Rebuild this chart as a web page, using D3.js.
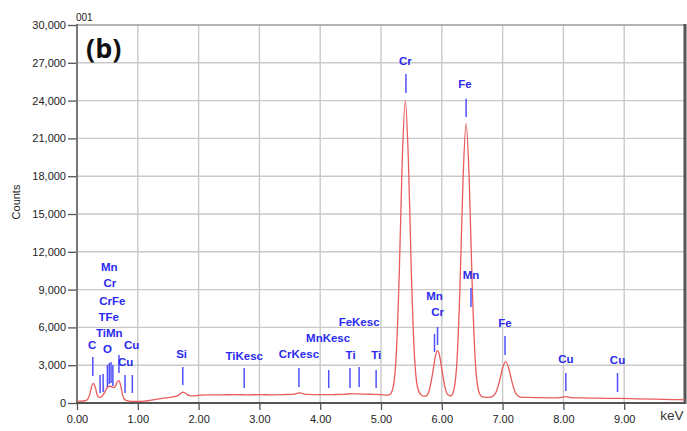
<!DOCTYPE html>
<html><head><meta charset="utf-8">
<script src="https://cdn.jsdelivr.net/npm/d3@7"></script>
<style>
html,body{margin:0;padding:0;background:#fff;}
svg{display:block;font-family:"Liberation Sans",Arial,Helvetica,sans-serif;}
</style></head>
<body><svg id="chart" width="687" height="431"></svg>
<script>
// ---- data ----
const specKeV = [0.00,0.05,0.10,0.15,0.18,0.21,0.24,0.27,0.30,0.33,0.36,0.40,0.44,0.48,0.52,0.56,0.60,0.63,0.66,0.69,0.72,0.75,0.78,0.82,0.90,1.00,1.10,1.20,1.30,1.40,1.50,1.60,1.66,1.70,1.74,1.78,1.82,1.88,1.95,2.05,2.20,2.40,2.60,2.80,3.00,3.20,3.40,3.55,3.62,3.66,3.72,3.80,4.00,4.20,4.40,4.52,4.62,4.75,4.90,5.00,5.10,5.15,5.20,5.25,5.30,5.35,5.40,5.45,5.50,5.55,5.60,5.65,5.70,5.75,5.80,5.85,5.90,5.93,5.96,6.00,6.05,6.10,6.15,6.20,6.25,6.30,6.35,6.40,6.45,6.50,6.55,6.60,6.65,6.70,6.75,6.80,6.85,6.90,6.95,7.00,7.05,7.10,7.15,7.20,7.25,7.30,7.40,7.60,7.80,7.95,8.04,8.12,8.30,8.60,8.90,9.20,9.50,9.80,10.00];
const specCounts = [150,150,160,210,320,700,1300,1560,1250,680,450,480,720,1080,1330,1310,1220,1320,1650,1770,1350,650,300,180,130,120,150,210,280,360,430,500,580,740,860,790,640,560,580,620,640,650,660,650,660,650,670,690,770,800,730,680,660,670,690,740,720,700,690,660,620,690,1270,3760,10220,19340,24000,19340,10220,3760,1270,690,540,590,1110,2375,3825,4150,3825,2695,1300,650,560,1070,3380,9370,17830,22200,17830,9370,3380,1070,540,460,450,470,575,937,1750,2780,3280,2780,1750,937,575,470,440,420,410,430,500,430,400,380,360,330,300,270,250];

const xTicks = [0,1,2,3,4,5,6,7,8,9];
const yTicks = [0,3000,6000,9000,12000,15000,18000,21000,24000,27000,30000];

// element marker lines (keV, top count, bottom count)
const markerKeV    = [0.26,0.38,0.43,0.50,0.53,0.56,0.59,0.69,0.79,0.91,1.74,2.75,3.65,4.14,4.49,4.64,4.92,5.41,5.88,5.93,6.40,6.48,7.04,8.04,8.89];
const markerTop    = [3650,2220,2300,3020,3170,3250,3020,3810,2220,2220,2860,2780,2780,2620,2780,2860,2620,26110,5480,6030,24150,9130,5320,2380,2380];
const markerBottom = [2140,790,870,1270,1510,1590,1350,2380,790,790,1430,1190,1270,1190,1190,1270,1190,24600,4050,4600,22700,7620,3810,950,870];

// element labels (text, keV centre, count centre)
const labelText   = ["C","O","TiMn","TFe","CrFe","Cr","Mn","Cu","Cu","Si","TiKesc","CrKesc","MnKesc","Ti","FeKesc","Ti","Cr","Fe","Mn","Mn","Cr","Fe","Cu","Cu"];
const labelKeV    = [0.25,0.50,0.53,0.52,0.58,0.54,0.53,0.90,0.80,1.72,2.75,3.65,4.13,4.50,4.64,4.92,5.40,6.38,6.48,5.88,5.93,7.04,8.04,8.89];
const labelCounts = [4600,4290,5560,6830,8120,9520,10820,4600,3230,3890,3750,3890,5130,3810,6400,3810,27140,25290,10160,8490,7200,6370,3490,3410];

// ---- drawing ----
const svg = d3.select("#chart");
const x = d3.scaleLinear().domain([0,10]).range([77,685]);
const y = d3.scaleLinear().domain([0,30000]).range([403,25]);

// grid
const grid = svg.append("g");
grid.selectAll("line.v").data(xTicks.filter(d=>d>0)).join("line")
  .attr("x1",d=>x(d)).attr("x2",d=>x(d)).attr("y1",y(0)).attr("y2",y(30000))
  .attr("stroke","#c9c9c9").attr("stroke-width",1.4);
grid.selectAll("line.h").data(yTicks.filter(d=>d>0)).join("line")
  .attr("x1",x(0)).attr("x2",x(10)).attr("y1",d=>y(d)).attr("y2",d=>y(d))
  .attr("stroke",d=>d===30000?"#9a9a9a":"#c9c9c9").attr("stroke-width",1.4);

// axes
const xAxis = d3.axisBottom(x).tickValues(xTicks).tickFormat(d3.format(".2f")).tickSize(7).tickPadding(5);
const yAxis = d3.axisLeft(y).tickValues(yTicks).tickFormat(d3.format(",")).tickSize(9).tickPadding(2);
const gx = svg.append("g").attr("transform",`translate(0,${y(0)})`).call(xAxis);
const gy = svg.append("g").attr("transform",`translate(${x(0)},0)`).call(yAxis);
[gx,gy].forEach(g=>{
  g.select(".domain").remove();
  g.selectAll(".tick line").attr("stroke","#555").attr("stroke-width",1.3);
  g.selectAll(".tick text").attr("fill","#222").style("font-size","11px");
});

// frame lines
svg.append("line").attr("x1",x(0)).attr("x2",x(0)).attr("y1",y(30000)-1).attr("y2",y(0)+1)
  .attr("stroke","#777").attr("stroke-width",2);
svg.append("line").attr("x1",x(0)-1).attr("x2",x(10)).attr("y1",y(0)).attr("y2",y(0))
  .attr("stroke","#555").attr("stroke-width",2);
svg.append("line").attr("x1",x(10)).attr("x2",x(10)).attr("y1",y(30000)-1).attr("y2",y(0)+1)
  .attr("stroke","#555").attr("stroke-width",3);

// spectrum
const line = d3.line().x((d,i)=>x(specKeV[i])).y(d=>y(d)).curve(d3.curveMonotoneX);
svg.append("path").datum(specCounts).attr("d",line)
  .attr("fill","none").attr("stroke","#e85c5c").attr("stroke-width",1.3);

// markers
svg.append("g").selectAll("line").data(markerKeV).join("line")
  .attr("x1",d=>x(d)).attr("x2",d=>x(d))
  .attr("y1",(d,i)=>y(markerTop[i])).attr("y2",(d,i)=>y(markerBottom[i]))
  .attr("stroke","#5050ff").attr("stroke-width",1.5);

// labels
svg.append("g").selectAll("text").data(labelText).join("text")
  .attr("x",(d,i)=>x(labelKeV[i])).attr("y",(d,i)=>y(labelCounts[i]))
  .attr("text-anchor","middle").attr("dominant-baseline","central")
  .attr("fill","#2a2af0").style("font-size","11.5px").style("font-weight","bold")
  .text(d=>d);

// titles
svg.append("text").attr("x",76).attr("y",21).text("001")
  .style("font-size","10px").attr("fill","#222");
svg.append("text").attr("x",86).attr("y",58).text("(b)")
  .style("font-size","27px").style("font-weight","bold").attr("fill","#111")
  .style("font-family","'Open Sans','Liberation Sans',Arial,sans-serif");
svg.append("text").attr("transform","translate(20,202) rotate(-90)")
  .attr("text-anchor","middle").text("Counts").style("font-size","11px").attr("fill","#222");
svg.append("text").attr("x",672).attr("y",420).attr("text-anchor","middle")
  .text("keV").style("font-size","13.5px").attr("fill","#333");
</script>
</body></html>
